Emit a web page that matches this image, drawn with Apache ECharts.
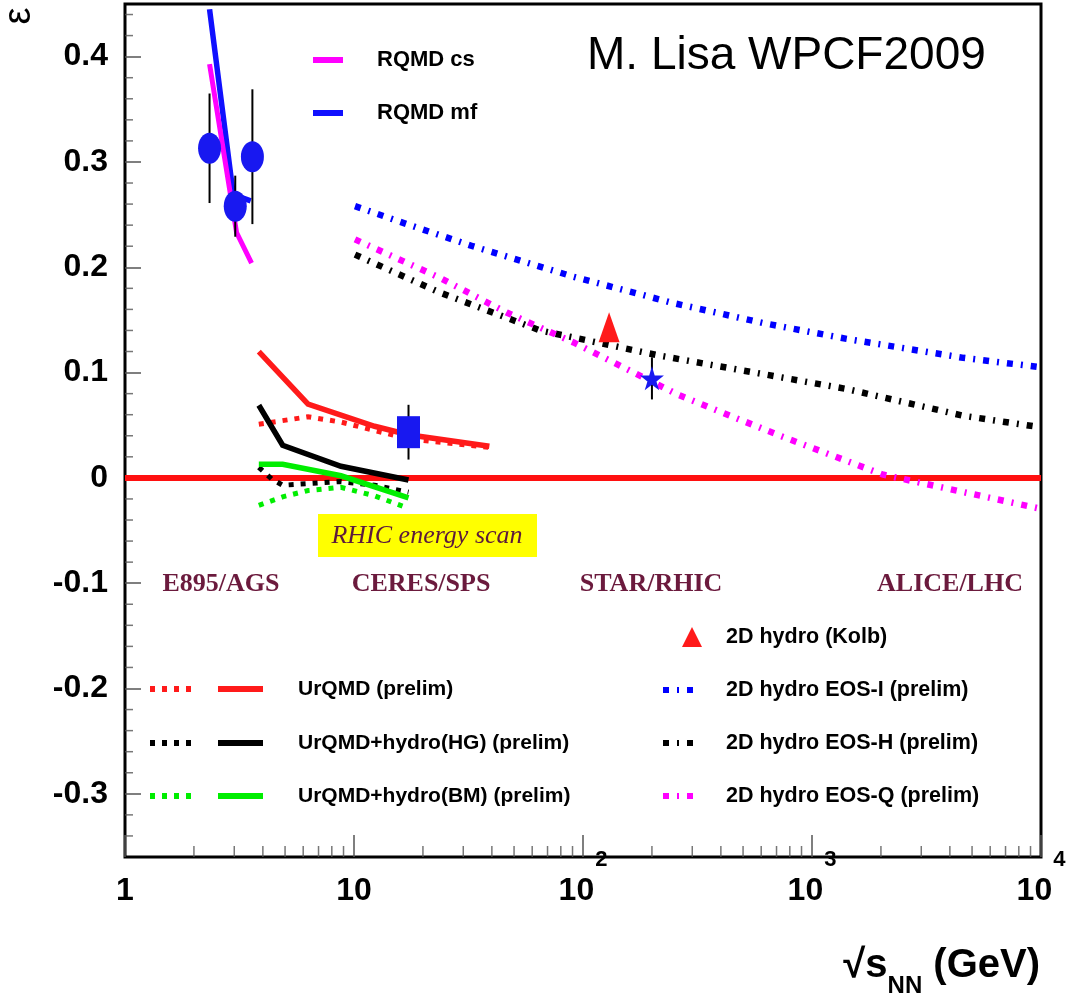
<!DOCTYPE html>
<html><head><meta charset="utf-8">
<script src="https://cdn.jsdelivr.net/npm/echarts@6/dist/echarts.min.js"></script>
<style>html,body{margin:0;padding:0;background:#fff}#c{width:1082px;height:1008px}</style>
</head><body><div id="c"></div>
<script>
// ---------------- data ----------------
const rqmdCs = [[2.34,0.393],[3.07,0.233],[3.57,0.204]];
const rqmdMf = [[2.34,0.445],[2.97,0.269],[3.54,0.263]];
const e895X = [2.34, 3.03, 3.6];
const e895Y = [0.313, 0.258, 0.305];
const e895Err = [0.052, 0.029, 0.064];
const ceresX = [17.3], ceresY = [0.0434], ceresErr = [0.026];
const starX = [200], starY = [0.0945], starErr = [0.02];
const kolbX = [130], kolbY = [0.143];
const urqmdSolid  = [[3.84,0.120],[6.3,0.070],[12.3,0.049],[17.3,0.041],[39,0.030]];
const urqmdDotted = [[3.84,0.051],[6.3,0.058],[8.77,0.053],[12.3,0.045],[17.3,0.037],[39,0.029]];
const hgSolid     = [[3.84,0.069],[4.88,0.031],[8.77,0.011],[17.3,-0.002]];
const hgDotted    = [[3.84,0.010],[4.37,-0.001],[4.88,-0.007],[7.1,-0.0047],[8.77,-0.0035],[12.3,-0.007],[17.3,-0.0136]];
const bmSolid     = [[3.84,0.013],[4.88,0.013],[8.77,0.002],[17.3,-0.019]];
const bmDotted    = [[3.84,-0.026],[4.88,-0.018],[6.3,-0.012],[8.77,-0.009],[12.3,-0.017],[17.3,-0.029]];
const eosI = [[10.1,0.258],[17,0.241],[33,0.220],[91,0.191],[248,0.166],[613,0.147],[1417,0.132],[4580,0.114],[10000,0.105]];
const eosH = [[10.1,0.212],[23.7,0.176],[65,0.140],[217,0.116],[1417,0.0844],[4580,0.059],[10000,0.048]];
const eosQ = [[10.1,0.2265],[23.7,0.190],[46.4,0.157],[91,0.1286],[260,0.079],[725,0.040],[2049,0.003],[10000,-0.0294]];
const zeroLine = [[1,0],[10000,0]];
const xRange = [1, 10000];
const yRange = [-0.36, 0.45];
const xMinorTicks = [2,3,4,5,6,7,8,9,20,30,40,50,60,70,80,90,200,300,400,500,600,700,800,900,2000,3000,4000,5000,6000,7000,8000,9000];
const yMinorTicks = [-0.34,-0.32,-0.28,-0.26,-0.24,-0.22,-0.18,-0.16,-0.14,-0.12,-0.08,-0.06,-0.04,-0.02,0.02,0.04,0.06,0.08,0.12,0.14,0.16,0.18,0.22,0.24,0.26,0.28,0.32,0.34,0.36,0.38,0.42,0.44];
const regionLabels = ['E895/AGS','CERES/SPS','STAR/RHIC','ALICE/LHC'];

// ---------------- styling ----------------
const FN = '"Liberation Sans",Arial,sans-serif';
const FR = '"Liberation Sans",Arial,sans-serif';
const SERIF = '"Liberation Serif","Times New Roman",serif';
const MAROON = '#6b1a3d';
const DOT = [5,7];
const DASHDOT = [6,8,2,8];
const ELLIPSE = 'path://M0,50 A50,50 0 1,1 100,50 A50,50 0 1,1 0,50 Z';
const STAR = 'path://M50,0 L61,35 L98,35 L68,57 L79,91 L50,70 L21,91 L32,57 L2,35 L39,35 Z';

function line(name, data, color, width, type, z) {
  return {name, type:'line', data, symbol:'none', showSymbol:false, silent:true,
    lineStyle:{color, width, type, cap:'butt', join:'miter'}, z: z||3, animation:false};
}
function errBars(xs, ys, es, z) {
  return {type:'custom', silent:true, z: z||6, animation:false,
    data: xs.map((x,i)=>[x, ys[i]-es[i], ys[i]+es[i]]),
    encode:{x:0, y:[1,2]},
    renderItem:(params, api)=>{
      const p1 = api.coord([api.value(0), api.value(1)]);
      const p2 = api.coord([api.value(0), api.value(2)]);
      return {type:'line', shape:{x1:p1[0],y1:p1[1],x2:p2[0],y2:p2[1]}, style:{stroke:'#000', lineWidth:2}};
    }};
}
function pts(xs, ys, symbol, size, color, z) {
  return {type:'scatter', silent:true, animation:false, z: z||8, clip:false,
    data: xs.map((x,i)=>[x, ys[i]]), symbol, symbolSize:size, itemStyle:{color, opacity:1}};
}

const xLabel = v => {
  const e = Math.round(Math.log10(v));
  if (e === 0) return '{b|1}';
  if (e === 1) return '{b|10}';
  return '{b|10}{s|' + e + '}';
};

const G = [];
function gtext(x, y, text, font, opt) {
  G.push(Object.assign({type:'text', x, y, silent:true, z:100,
    style:Object.assign({text, font, fill:'#000', align:'left', verticalAlign:'middle', textAlign:'left', textVerticalAlign:'middle'}, opt||{})}));
}
function gline(x1, y1, x2, y2, color, w, dash) {
  G.push({type:'line', silent:true, z:100, shape:{x1,y1,x2,y2}, style:{stroke:color, lineWidth:w, lineDash:dash||null, lineCap:'butt'}});
}

// top-left legend
gline(313,60,343,60,'#ff00ff',6); gtext(377,60,'RQMD cs','bold 22px '+FN);
gline(313,113,343,113,'#1010ff',6); gtext(377,113,'RQMD mf','bold 22px '+FN);
// annotation
gtext(587,56,'M. Lisa WPCF2009','46px '+FR);
// RHIC energy scan box
G.push({type:'rect', silent:true, z:50, shape:{x:318,y:514,width:219,height:43}, style:{fill:'#ffff00'}});
gtext(427,536,'RHIC energy scan','italic 26px '+SERIF,{fill:'#5c1a3c', align:'center', textAlign:'center'});
// region labels
[221,421,651,950].forEach((cx,i)=>gtext(cx,584,regionLabels[i],'bold 26px '+SERIF,{fill:MAROON, align:'center', textAlign:'center'}));
// bottom-left legend
const blRows = [[689,'#ff1a1a','UrQMD (prelim)'],[743,'#000000','UrQMD+hydro(HG) (prelim)'],[796,'#00ee00','UrQMD+hydro(BM) (prelim)']];
blRows.forEach(r=>{ gline(150,r[0],192,r[0],r[1],6,DOT); gline(218,r[0],263,r[0],r[1],6); gtext(298,r[0],r[2],'bold 21px '+FN); });
// bottom-right legend
G.push({type:'polygon', silent:true, z:100, shape:{points:[[692,627],[682,647],[702,647]]}, style:{fill:'#ff1a1a'}});
gtext(726,637,'2D hydro (Kolb)','bold 21.5px '+FN);
const brRows = [[690,'#0000ff','2D hydro EOS-I (prelim)'],[743,'#000000','2D hydro EOS-H (prelim)'],[796,'#ff00ff','2D hydro EOS-Q (prelim)']];
brRows.forEach(r=>{ gline(663,r[0],694,r[0],r[1],6,DASHDOT); gtext(726,r[0],r[2],'bold 21.5px '+FN); });
// axis titles
G.push({type:'text', x:20, y:16, rotation:Math.PI/2, silent:true, z:100,
  style:{text:'ε', font:'38px '+FR, fill:'#000', align:'center', verticalAlign:'middle', textAlign:'center', textVerticalAlign:'middle'}});
G.push({type:'text', x:1040, y:972, silent:true, z:100,
  style:{text:'{m|√s}{sub|NN}{m| (GeV)}', align:'right', verticalAlign:'middle', textAlign:'right', textVerticalAlign:'middle',
    rich:{m:{fontSize:40, fontWeight:'bold', fontFamily:FN, fill:'#000', padding:[0,0,12,0], verticalAlign:'bottom'},
          sub:{fontSize:24, fontWeight:'bold', fontFamily:FN, fill:'#000', verticalAlign:'bottom'}}}});

const option = {
  backgroundColor:'#fff',
  animation:false,
  grid:{left:125, right:41, top:4, bottom:151, show:true, borderWidth:3, borderColor:'#000', backgroundColor:'transparent', containLabel:false, outerBoundsMode:'none'},
  xAxis:{type:'log', logBase:10, min:xRange[0], max:xRange[1],
    axisLine:{show:false, onZero:false}, splitLine:{show:false}, minorTick:{show:false},
    axisTick:{show:true, inside:true, length:22, lineStyle:{color:'#555', width:1.5}},
    axisLabel:{show:true, margin:18, showMinLabel:true, showMaxLabel:true, hideOverlap:false, formatter:xLabel, color:'#000',
      rich:{b:{fontSize:32, fontWeight:'bold', fontFamily:FN, color:'#000', lineHeight:32, verticalAlign:'bottom'},
            s:{fontSize:22, fontWeight:'bold', fontFamily:FN, color:'#000', lineHeight:22, verticalAlign:'bottom', padding:[0,0,36,1]}}}},
  yAxis:{type:'value', min:yRange[0], max:yRange[1], minInterval:0.1, maxInterval:0.1, splitNumber:8,
    axisLine:{show:false, onZero:false}, splitLine:{show:false},
    axisTick:{show:true, inside:true, length:16, lineStyle:{color:'#555', width:1.5}},
    axisLabel:{show:true, showMinLabel:false, showMaxLabel:false, margin:17, color:'#000',
      fontSize:32, fontWeight:'bold', fontFamily:FN,
      formatter:v=>Math.abs(v)<1e-9 ? '0' : (Math.round(v*10)/10).toString()}},
  graphic:{elements:G},
  series:[
    // minor ticks (axis decoration) via scales
    {type:'scatter', silent:true, animation:false, clip:false, z:1, data:xMinorTicks.map(v=>[v,yRange[0]]),
      symbol:'rect', symbolSize:[1.5,11], symbolOffset:[0,-5.5], itemStyle:{color:'#555'}},
    {type:'scatter', silent:true, animation:false, clip:false, z:1, data:yMinorTicks.map(v=>[xRange[0],v]),
      symbol:'rect', symbolSize:[8,1.5], symbolOffset:[4,0], itemStyle:{color:'#555'}},
    line('zero', zeroLine, '#ff1010', 6, 'solid', 2),
    line('UrQMD dotted', urqmdDotted, '#ff1a1a', 5, DOT),
    line('UrQMD', urqmdSolid, '#ff1a1a', 5.5, 'solid'),
    line('HG dotted', hgDotted, '#000', 5, DOT),
    line('HG', hgSolid, '#000', 5.5, 'solid'),
    line('BM dotted', bmDotted, '#00ee00', 5, DOT),
    line('BM', bmSolid, '#00ee00', 5.5, 'solid'),
    line('RQMD mf', rqmdMf, '#1010ff', 5.5, 'solid'),
    line('RQMD cs', rqmdCs, '#ff00ff', 5, 'solid'),
    line('EOS-I', eosI, '#0000ff', 6.5, DASHDOT),
    line('EOS-H', eosH, '#000', 6.5, DASHDOT),
    line('EOS-Q', eosQ, '#ff00ff', 6.5, DASHDOT),
    errBars(e895X, e895Y, e895Err),
    errBars(ceresX, ceresY, ceresErr),
    errBars(starX, starY, starErr),
    pts(e895X, e895Y, ELLIPSE, [23,31], '#1818f0'),
    pts(ceresX, ceresY, 'rect', [23,32], '#1818f0'),
    pts(starX, starY, STAR, [24,24], '#1818f0'),
    pts(kolbX, kolbY, 'triangle', [21,30], '#ff1a1a')
  ]
};
const chart = echarts.init(document.getElementById('c'), null, {renderer:'canvas'});
chart.setOption(option);
</script></body></html>
